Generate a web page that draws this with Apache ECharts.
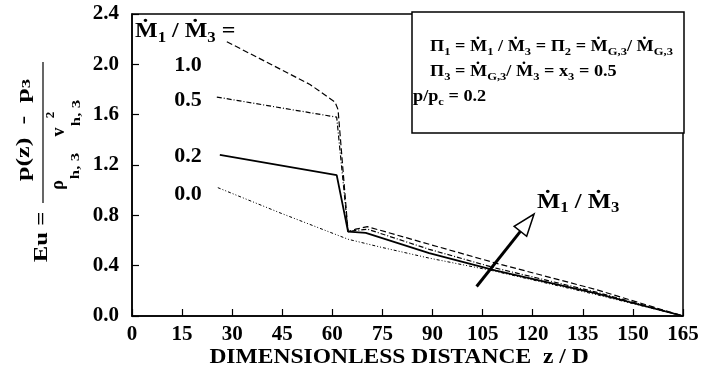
<!DOCTYPE html>
<html>
<head>
<meta charset="utf-8">
<script src="https://cdn.jsdelivr.net/npm/echarts@6/dist/echarts.min.js"></script>
<style>
  html, body { margin: 0; background: #fff; }
  #chart { width: 706px; height: 380px; }
</style>
</head>
<body>
<div id="chart"></div>
<script>
const SERIF = '"Liberation Serif", "DejaVu Serif", serif';

// z/D positions and Eu values, one pair of arrays per curve (M1/M3)
const z10 = [28.4, 53.3, 60.8, 61.7, 64.7, 67, 70.5, 89, 109, 139, 165];
const eu10 = [2.18, 1.84, 1.70, 1.64, 0.67, 0.69, 0.71, 0.57, 0.42, 0.21, 0];
const z05 = [25.4, 61.3, 64.7, 67, 70.5, 89, 109, 139, 165];
const eu05 = [1.74, 1.58, 0.67, 0.68, 0.69, 0.53, 0.38, 0.19, 0];
const z02 = [26.3, 61.3, 61.8, 64.7, 70, 89, 109, 139, 165];
const eu02 = [1.28, 1.12, 1.11, 0.67, 0.66, 0.50, 0.36, 0.18, 0];
const z00 = [25.7, 44.3, 64.7, 74, 89, 108, 139, 165];
const eu00 = [1.02, 0.82, 0.61, 0.55, 0.46, 0.36, 0.17, 0];

const curveNames = ['1.0', '0.5', '0.2', '0.0'];
const xMax = 165, xStep = 15;
const yMax = 2.4, yStep = 0.4;

// arrow showing increasing M1/M3 (tail, tip in data units)
const arrowTail = [103.2, 0.234];
const arrowTip = [120.4, 0.81];

const pairs = (xs, ys) => xs.map((x, i) => [x, ys[i]]);

const myChart = echarts.init(document.getElementById('chart'));

const lineSeries = (name, xs, ys, type, width) => ({
  name: name,
  type: 'line',
  data: pairs(xs, ys),
  symbol: 'none',
  silent: true,
  lineStyle: { color: '#000', width: width, type: type }
});

// rich text styles for M-dot with subscripts
const richM = (size, sub) => ({
  m: { fontFamily: SERIF, fontSize: size, fontWeight: 'bold', lineHeight: size + 6 },
  s: { fontFamily: SERIF, fontSize: sub, fontWeight: 'bold', lineHeight: sub, verticalAlign: 'bottom' }
});

const text = (x, y, str, opts) => ({
  type: 'text',
  x: x, y: y,
  scaleX: opts.scaleX || 1,
  rotation: opts.rotation || 0,
  z: 100,
  style: Object.assign({
    text: str,
    fill: '#000',
    fontFamily: SERIF,
    fontSize: opts.size || 18,
    fontWeight: opts.weight || 'normal',
    textAlign: opts.align || 'left',
    textVerticalAlign: 'middle'
  }, opts.rich ? { rich: opts.rich } : {})
});

const R = Math.PI / 2;

let option = {
  animation: false,
  backgroundColor: '#fff',
  grid: {
    left: 132, right: 23, top: 14, bottom: 64,
    show: true, borderColor: '#000', borderWidth: 1.5
  },
  xAxis: {
    type: 'value',
    min: 0, max: xMax, interval: xStep,
    axisLine: { lineStyle: { color: '#000', width: 1.5 } },
    axisTick: { inside: true, length: 7, lineStyle: { color: '#000', width: 1.2 } },
    axisLabel: { color: '#000', fontFamily: SERIF, fontSize: 21, fontWeight: 'bold', margin: 8 },
    splitLine: { show: false }
  },
  yAxis: {
    type: 'value',
    min: 0, max: yMax, interval: yStep,
    axisLine: { lineStyle: { color: '#000', width: 1.5 } },
    axisTick: { inside: true, length: 7, lineStyle: { color: '#000', width: 1.2 } },
    axisLabel: {
      color: '#000', fontFamily: SERIF, fontSize: 21, fontWeight: 'bold', margin: 13,
      formatter: v => v.toFixed(1)
    },
    splitLine: { show: false }
  },
  series: [
    lineSeries(curveNames[0], z10, eu10, [6, 3], 1.2),
    lineSeries(curveNames[1], z05, eu05, [5, 2, 1, 2], 1.2),
    lineSeries(curveNames[2], z02, eu02, 'solid', 1.8),
    lineSeries(curveNames[3], z00, eu00, [3, 2, 1, 2, 1, 2], 1),
    {
      type: 'custom',
      silent: true,
      z: 5,
      data: [[arrowTail[0], arrowTail[1], arrowTip[0], arrowTip[1]]],
      encode: { x: [0, 2], y: [1, 3] },
      renderItem: function (params, api) {
        const a = api.coord([api.value(0), api.value(1)]);
        const b = api.coord([api.value(2), api.value(3)]);
        const dx = b[0] - a[0], dy = b[1] - a[1];
        const len = Math.hypot(dx, dy);
        const ux = dx / len, uy = dy / len;
        const nx = -uy, ny = ux;
        const headLen = 22, headW = 8;
        const bx = b[0] - ux * headLen, by = b[1] - uy * headLen;
        return {
          type: 'group',
          children: [
            { type: 'line', shape: { x1: a[0], y1: a[1], x2: bx, y2: by },
              style: { stroke: '#000', lineWidth: 3 } },
            { type: 'polygon',
              shape: { points: [[b[0], b[1]], [bx + nx * headW, by + ny * headW], [bx - nx * headW, by - ny * headW]] },
              style: { fill: '#fff', stroke: '#000', lineWidth: 1.5 } }
          ]
        };
      }
    }
  ],
  graphic: [
    // info box
    {
      type: 'rect', z: 90,
      shape: { x: 412, y: 12, width: 272, height: 121 },
      style: { fill: '#fff', stroke: '#000', lineWidth: 1.5 }
    },
    text(430, 47, '{m|Π}{s|1}{m| = Ṁ}{s|1}{m| / Ṁ}{s|3}{m| = Π}{s|2}{m| = Ṁ}{s|G,3}{m|/ Ṁ}{s|G,3}',
      { scaleX: 1.14, rich: richM(16, 11) }),
    text(430, 72, '{m|Π}{s|3}{m| = Ṁ}{s|G,3}{m|/ Ṁ}{s|3}{m| = x}{s|3}{m| = 0.5}',
      { scaleX: 1.14, rich: richM(16, 11) }),
    text(413, 97, '{m|p/p}{s|c}{m| = 0.2}',
      { scaleX: 1.14, rich: richM(16, 11) }),

    // curve labels
    text(135, 32, '{m|Ṁ}{s|1}{m| / Ṁ}{s|3}{m| =}', { scaleX: 1.2, rich: richM(20, 14) }),
    text(188, 66, curveNames[0], { size: 20, align: 'center', scaleX: 1.1, weight: 'bold' }),
    text(188, 101, curveNames[1], { size: 20, align: 'center', scaleX: 1.1, weight: 'bold' }),
    text(188, 157, curveNames[2], { size: 20, align: 'center', scaleX: 1.1, weight: 'bold' }),
    text(188, 195, curveNames[3], { size: 20, align: 'center', scaleX: 1.1, weight: 'bold' }),

    // arrow label
    text(537, 202, '{m|Ṁ}{s|1}{m| / Ṁ}{s|3}', { scaleX: 1.12, rich: richM(22, 15) }),

    // x axis title
    text(399, 358, 'DIMENSIONLESS DISTANCE  z / D', { size: 21, align: 'center', scaleX: 1.12, weight: 'bold' }),

    // y axis title (rotated)
    text(42, 237, 'Eu =', { size: 19, align: 'center', rotation: R, scaleX: 1.3, weight: 'bold' }),
    text(24, 130, 'p(z)  -  p{s|3}', {
      size: 18, align: 'center', rotation: R, scaleX: 1.45, weight: 'bold',
      rich: { s: { fontFamily: SERIF, fontSize: 13, fontWeight: 'bold', lineHeight: 13, verticalAlign: 'bottom' } }
    }),
    { type: 'line', z: 100, shape: { x1: 43, y1: 62, x2: 43, y2: 203 }, style: { stroke: '#000', lineWidth: 1.2 } },
    text(58, 185, 'ρ', { size: 18, align: 'center', rotation: R, weight: 'bold' }),
    text(76, 166, 'h, 3', { size: 13, align: 'center', rotation: R, scaleX: 1.3, weight: 'bold' }),
    text(59, 132, 'v', { size: 18, align: 'center', rotation: R, weight: 'bold' }),
    text(51, 115, '2', { size: 13, align: 'center', rotation: R, weight: 'bold' }),
    text(77, 113, 'h, 3', { size: 13, align: 'center', rotation: R, scaleX: 1.3, weight: 'bold' })
  ]
};

option && myChart.setOption(option);
</script>
</body>
</html>
